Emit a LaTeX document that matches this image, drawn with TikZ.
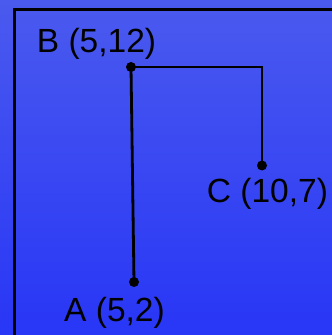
\documentclass[tikz,border=0pt]{standalone}
\usepackage{fontspec}
\setmainfont{Liberation Sans}
\definecolor{bgtop}{RGB}{74,90,238}
\definecolor{bgbot}{RGB}{40,54,246}
\begin{document}
\begin{tikzpicture}[x=1pt,y=1pt,
  dot/.style={circle,fill=black,inner sep=0pt,minimum size=10pt},
  lbl/.style={font=\fontsize{33.5}{40}\selectfont,anchor=base,inner sep=0pt},
  conn/.style={line width=2.8pt}]
\useasboundingbox (0,0) rectangle (332,335);
\shade[top color=bgtop,bottom color=bgbot] (0,0) rectangle (332,335);
\begin{scope}
\clip (0,0) rectangle (332,335);
\draw[line width=3pt] (14.8,-10) -- (14.8,325.5) -- (345,325.5);
\end{scope}
\node[dot] (B) at (131,268) {};
\node[dot] (C) at (262,169.5) {};
\node[dot] (A) at (134,53) {};
\node[lbl] (Bl) at (96.5,282) {B (5,12)};
\node[lbl] (Cl) at (267.5,132) {C (10,7)};
\node[lbl] (Al) at (114.5,13) {A (5,2)};
\draw[conn] (B.center) -- (A.center);
\draw[conn] (B.center) -| (C.center);
\end{tikzpicture}
\end{document}
